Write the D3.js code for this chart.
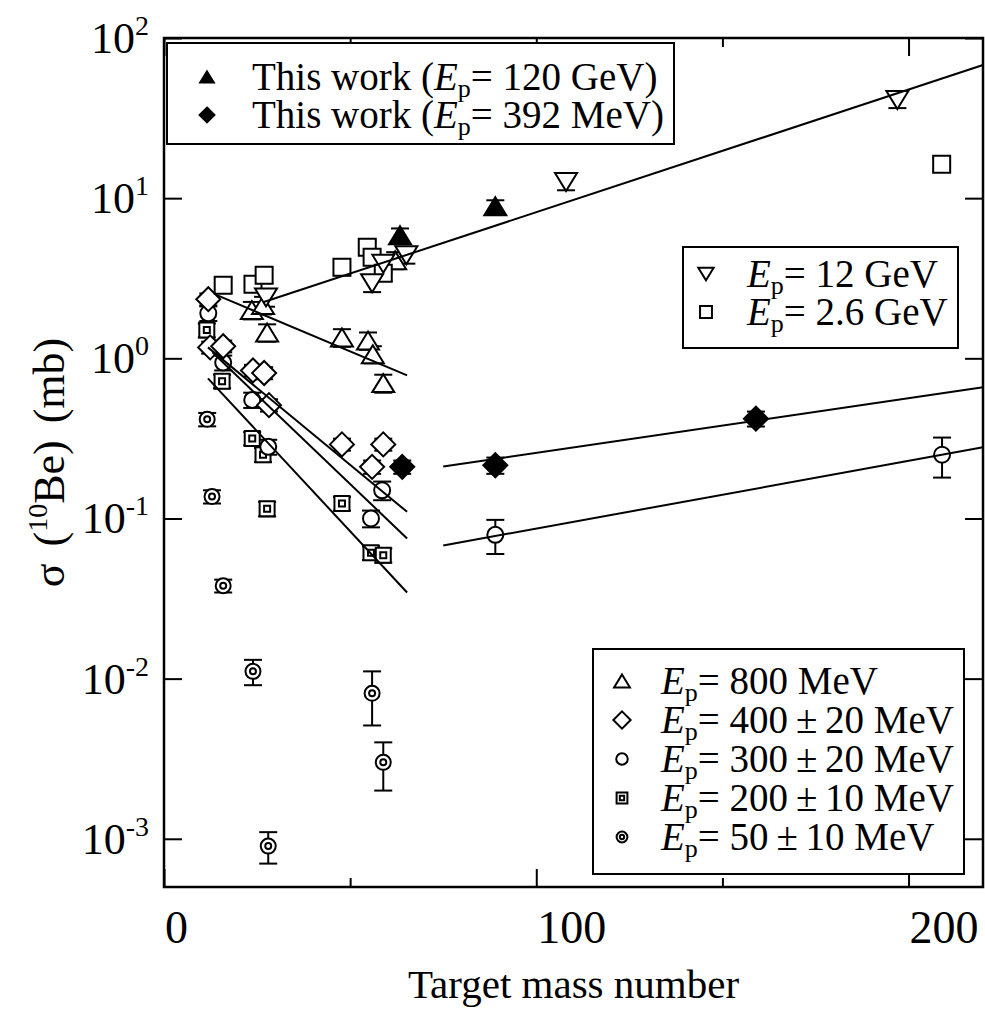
<!DOCTYPE html>
<html>
<head>
<meta charset="utf-8">
<script src="https://cdn.jsdelivr.net/npm/d3@7"></script>
<style>
body { margin: 0; background: #fff; }
svg { display: block; }
text { font-family: "Liberation Serif", "Times New Roman", serif; fill: #000; }
</style>
</head>
<body>
<div id="grafico"></div>
<script>
/////////// DATOS /////////
// A = target mass number, s = sigma (mb), e = error (mb)
var a120GeV = [63.4, 89],   s120GeV = [5.87, 8.9],   e120GeV = [0.6, 0.8];
var a392MeV = [64, 89, 159], s392MeV = [0.21, 0.215, 0.42], e392MeV = [0.02, 0.025, 0.045];
var a12GeV = [27.4, 55.9, 58.9, 65.1, 108, 197];
var s12GeV = [2.4, 2.94, 3.9, 4.4, 12.6, 41];
var e12GeV = [0.3, 0.35, 0.45, 0.5, 1.4, 4.5];
var a26GeV = [15.9, 23.9, 26.9, 47.8, 54.6, 55.9, 58.9, 208.9];
var s26GeV = [2.86, 2.9, 3.3, 3.7, 4.94, 4.28, 3.4, 16.3];
var e26GeV = [0.3, 0.3, 0.35, 0.4, 0.5, 0.45, 0.35, 1.6];
var a800MeV = [23.6, 26.6, 27.7, 47.8, 54.8, 56.1, 58.9, 62.1];
var s800MeV = [2.0, 2.15, 1.45, 1.35, 1.29, 1.06, 0.70, 4.1];
var e800MeV = [0.25, 0.27, 0.18, 0.17, 0.16, 0.13, 0.09, 0.5];
var a400MeV = [11.9, 12.4, 15.9, 23.9, 26.9, 28.2, 47.8, 58.9, 55.9];
var s400MeV = [2.34, 1.17, 1.19, 0.84, 0.81, 0.51, 0.29, 0.29, 0.21];
var e400MeV = [0.2, 0.1, 0.1, 0.07, 0.07, 0.045, 0.025, 0.025, 0.02];
var a300MeV = [11.9, 15.9, 23.7, 28, 55.6, 58.6, 89, 209];
var s300MeV = [1.91, 0.94, 0.55, 0.28, 0.10, 0.15, 0.079, 0.25];
var e300MeV = [0.2, 0.1, 0.06, 0.03, 0.012, 0.02, 0.019, 0.07];
var a200MeV = [11.5, 15.6, 23.7, 26.6, 27.7, 47.8, 55.6, 58.9];
var s200MeV = [1.5, 0.72, 0.316, 0.25, 0.115, 0.124, 0.061, 0.059];
var e200MeV = [0.15, 0.07, 0.03, 0.025, 0.012, 0.012, 0.006, 0.006];
var a50MeV = [11.6, 12.9, 15.9, 23.9, 28, 55.9, 58.9];
var s50MeV = [0.416, 0.137, 0.038, 0.0111, 0.0009, 0.0081, 0.003];
var e50MeV = [0.04, 0.013, 0.0035, 0.002, 0.0002, 0.003, 0.001];

// Rectas de ajuste: [A inicio, A fin], [sigma inicio, sigma fin]
var ajA12GeV = [26.6, 220], ajS12GeV = [2.24, 67.8];
var ajA800 = [14.2, 65.3], ajS800 = [2.48, 0.783];
var ajA400 = [11.8, 65.3], ajS400 = [1.17, 0.11];
var ajA300 = [13, 65.3],   ajS300 = [1.09, 0.075];
var ajA200 = [11.8, 65.3], ajS200 = [0.75, 0.0345];
var ajA392 = [75, 220],    ajS392 = [0.211, 0.659];
var ajA300b = [75, 220],   ajS300b = [0.0678, 0.278];

// Ejes
var ticksX = [0, 100, 200];
var ticksXmenor = [50, 150];
var ticksY = [1e2, 1e1, 1e0, 1e-1, 1e-2, 1e-3];
var expY = ["2", "1", "0", "-1", "-2", "-3"];

// Leyendas
var leyenda1 = [{sym: "triF", pre: "This work (", post: "= 120 GeV)"},
                {sym: "diaF", pre: "This work (", post: "= 392 MeV)"}];
var leyenda2 = [{sym: "triD", pre: "", post: "= 12 GeV"},
                {sym: "sq", pre: "", post: "= 2.6 GeV"}];
var leyenda3 = [{sym: "tri", pre: "", post: "= 800 MeV"},
                {sym: "dia", pre: "", post: "= 400\u2009±\u200920 MeV"},
                {sym: "cir", pre: "", post: "= 300\u2009±\u200920 MeV"},
                {sym: "sqd", pre: "", post: "= 200\u2009±\u200910 MeV"},
                {sym: "con", pre: "", post: "= 50\u2009±\u200910 MeV"}];

/////////// SVG /////////
var W = 985, H = 1021;
var margin = {top: 38, right: 2, bottom: 134, left: 164};
var svg = d3.select("#grafico").append("svg")
    .attr("width", W)
    .attr("height", H);

var x = d3.scaleLinear().domain([0, 220]).range([margin.left, W - margin.right]);
var y = d3.scaleLog().domain([5e-4, 100]).range([H - margin.bottom, margin.top]);

/////////// SIMBOLOS /////////
function pathTri(w, h, dir) {
    var t = -dir * h / 2;
    return "M0," + t + "L" + (w / 2) + "," + (-t) + "L" + (-w / 2) + "," + (-t) + "Z";
}
function pathDia(w, h) {
    return "M0," + (-h / 2) + "L" + (w / 2) + ",0L0," + (h / 2) + "L" + (-w / 2) + ",0Z";
}
function pathSq(s) {
    return "M" + (-s / 2) + "," + (-s / 2) + "h" + s + "v" + s + "h" + (-s) + "Z";
}

// k = escala (1 grafico, menor en leyenda)
function dibujarSimbolo(g, sym, k) {
    var sw = 2;
    if (sym == "tri" || sym == "triF" || sym == "triD") {
        g.append("path").attr("d", pathTri(22 * k, 18 * k, sym == "triD" ? -1 : 1))
            .attr("fill", sym == "triF" ? "#000" : "#fff")
            .attr("stroke", "#000").attr("stroke-width", sw).attr("stroke-linejoin", "miter");
    } else if (sym == "dia" || sym == "diaF") {
        g.append("path").attr("d", pathDia(24 * k, 24 * k))
            .attr("fill", sym == "diaF" ? "#000" : "#fff")
            .attr("stroke", "#000").attr("stroke-width", sw);
    } else if (sym == "sq") {
        g.append("path").attr("d", pathSq(17 * k))
            .attr("fill", "#fff").attr("stroke", "#000").attr("stroke-width", sw);
    } else if (sym == "sqd") {
        g.append("path").attr("d", pathSq(15 * k))
            .attr("fill", "#fff").attr("stroke", "#000").attr("stroke-width", sw);
        g.append("path").attr("d", pathSq(6 * k))
            .attr("fill", "none").attr("stroke", "#000").attr("stroke-width", sw);
    } else if (sym == "cir") {
        g.append("circle").attr("r", 8 * k)
            .attr("fill", "#fff").attr("stroke", "#000").attr("stroke-width", sw);
    } else if (sym == "con") {
        g.append("circle").attr("r", 7.5 * k)
            .attr("fill", "#fff").attr("stroke", "#000").attr("stroke-width", sw);
        g.append("circle").attr("r", 3 * k)
            .attr("fill", "none").attr("stroke", "#000").attr("stroke-width", sw);
    }
}

/////////// SERIES /////////
var series = [
    {sym: "con", a: a50MeV, s: s50MeV, e: e50MeV},
    {sym: "sqd", a: a200MeV, s: s200MeV, e: e200MeV},
    {sym: "cir", a: a300MeV, s: s300MeV, e: e300MeV},
    {sym: "dia", a: a400MeV, s: s400MeV, e: e400MeV},
    {sym: "tri", a: a800MeV, s: s800MeV, e: e800MeV},
    {sym: "sq", a: a26GeV, s: s26GeV, e: e26GeV},
    {sym: "triD", a: a12GeV, s: s12GeV, e: e12GeV},
    {sym: "diaF", a: a392MeV, s: s392MeV, e: e392MeV},
    {sym: "triF", a: a120GeV, s: s120GeV, e: e120GeV}
];

var puntos = [];
series.forEach(function(se) {
    se.a.forEach(function(d, i) {
        puntos.push({sym: se.sym, a: d, s: se.s[i], e: se.e[i]});
    });
});

// Barras de error
var gErr = svg.append("g").attr("stroke", "#000").attr("stroke-width", 2);
puntos.forEach(function(p) {
    var px = x(p.a), y0 = y(p.s - p.e), y1 = y(p.s + p.e);
    gErr.append("line").attr("x1", px).attr("x2", px).attr("y1", y0).attr("y2", y1);
    gErr.append("line").attr("x1", px - 9).attr("x2", px + 9).attr("y1", y0).attr("y2", y0);
    gErr.append("line").attr("x1", px - 9).attr("x2", px + 9).attr("y1", y1).attr("y2", y1);
});

// Simbolos
puntos.forEach(function(p) {
    var g = svg.append("g").attr("transform", "translate(" + x(p.a) + "," + y(p.s) + ")");
    dibujarSimbolo(g, p.sym, 1);
});

// Rectas de ajuste
var ajustes = [[ajA12GeV, ajS12GeV], [ajA800, ajS800], [ajA400, ajS400], [ajA300, ajS300],
               [ajA200, ajS200], [ajA392, ajS392], [ajA300b, ajS300b]];
var linea = d3.line().x(function(d) { return x(d[0]); }).y(function(d) { return y(d[1]); });
ajustes.forEach(function(aj) {
    svg.append("path")
        .datum([[aj[0][0], aj[1][0]], [aj[0][1], aj[1][1]]])
        .attr("fill", "none").attr("stroke", "#000").attr("stroke-width", 2)
        .attr("d", linea);
});

/////////// EJES /////////
var yb = H - margin.bottom, xr = W - margin.right;
function estiloEje(g) {
    g.select(".domain").remove();
    g.selectAll("line").attr("stroke", "#000").attr("stroke-width", 2);
}
svg.append("g").attr("transform", "translate(0," + yb + ")")
    .call(d3.axisBottom(x).tickValues(ticksX).tickSize(-18).tickFormat("")).call(estiloEje);
svg.append("g").attr("transform", "translate(0," + yb + ")")
    .call(d3.axisBottom(x).tickValues(ticksXmenor).tickSize(-9).tickFormat("")).call(estiloEje);
svg.append("g").attr("transform", "translate(0," + margin.top + ")")
    .call(d3.axisTop(x).tickValues(ticksX).tickSize(-18).tickFormat("")).call(estiloEje);
svg.append("g").attr("transform", "translate(0," + margin.top + ")")
    .call(d3.axisTop(x).tickValues(ticksXmenor).tickSize(-9).tickFormat("")).call(estiloEje);
svg.append("g").attr("transform", "translate(" + margin.left + ",0)")
    .call(d3.axisLeft(y).tickValues(ticksY).tickSize(-18).tickFormat("")).call(estiloEje);
svg.append("g").attr("transform", "translate(" + xr + ",0)")
    .call(d3.axisRight(y).tickValues(ticksY).tickSize(-18).tickFormat("")).call(estiloEje);

// Marco
svg.append("rect")
    .attr("x", margin.left).attr("y", margin.top)
    .attr("width", xr - margin.left).attr("height", yb - margin.top)
    .attr("fill", "none").attr("stroke", "#000").attr("stroke-width", 2.5);

// Etiquetas X
svg.selectAll(".lx").data(ticksX).enter().append("text")
    .attr("class", "lx")
    .attr("x", function(d) { return x(d) + 1; })
    .attr("y", yb + 56)
    .attr("font-size", "46px")
    .text(function(d) { return d; });

// Etiquetas Y
ticksY.forEach(function(d, i) {
    var t = svg.append("text")
        .attr("x", 149).attr("y", y(d) + 15)
        .attr("text-anchor", "end")
        .attr("font-size", "44px");
    t.append("tspan").text("10");
    t.append("tspan").attr("dy", -18).attr("font-size", "28px").text(expY[i]);
});

// Título X
svg.append("text")
    .attr("x", (margin.left + xr) / 2).attr("y", 998)
    .attr("text-anchor", "middle")
    .attr("font-size", "41px")
    .text("Target mass number");

// Título Y
var ty = svg.append("text")
    .attr("transform", "translate(64," + ((margin.top + yb) / 2) + ") rotate(-90)")
    .attr("text-anchor", "middle")
    .attr("font-size", "44px")
    .attr("word-spacing", "6px");
ty.append("tspan").text("σ (");
ty.append("tspan").attr("dy", -17).attr("font-size", "28px").text("10");
ty.append("tspan").attr("dy", 17).text("Be) (mb)");

/////////// LEYENDAS /////////
function leyenda(items, box, symX, textX, y0, paso, k) {
    svg.append("rect")
        .attr("x", box[0]).attr("y", box[1]).attr("width", box[2]).attr("height", box[3])
        .attr("fill", "#fff").attr("stroke", "#000").attr("stroke-width", 2);
    items.forEach(function(it, i) {
        var by = y0 + i * paso;
        var g = svg.append("g").attr("transform", "translate(" + symX + "," + (by - 13) + ")");
        dibujarSimbolo(g, it.sym, k);
        var t = svg.append("text").attr("x", textX).attr("y", by).attr("font-size", "39px");
        if (it.pre) t.append("tspan").text(it.pre);
        t.append("tspan").attr("font-style", "italic").text("E");
        t.append("tspan").attr("dy", 7).attr("font-size", "26px").text("p");
        t.append("tspan").attr("dy", -7).text(it.post);
    });
}
leyenda(leyenda1, [167, 43, 507, 101], 207, 252, 90, 38, 0.62);
leyenda(leyenda2, [683, 247, 275, 101], 706, 747, 287, 38, 0.7);
leyenda(leyenda3, [593, 649, 371, 225], 622, 661, 694, 39, 0.72);
</script>
</body>
</html>
